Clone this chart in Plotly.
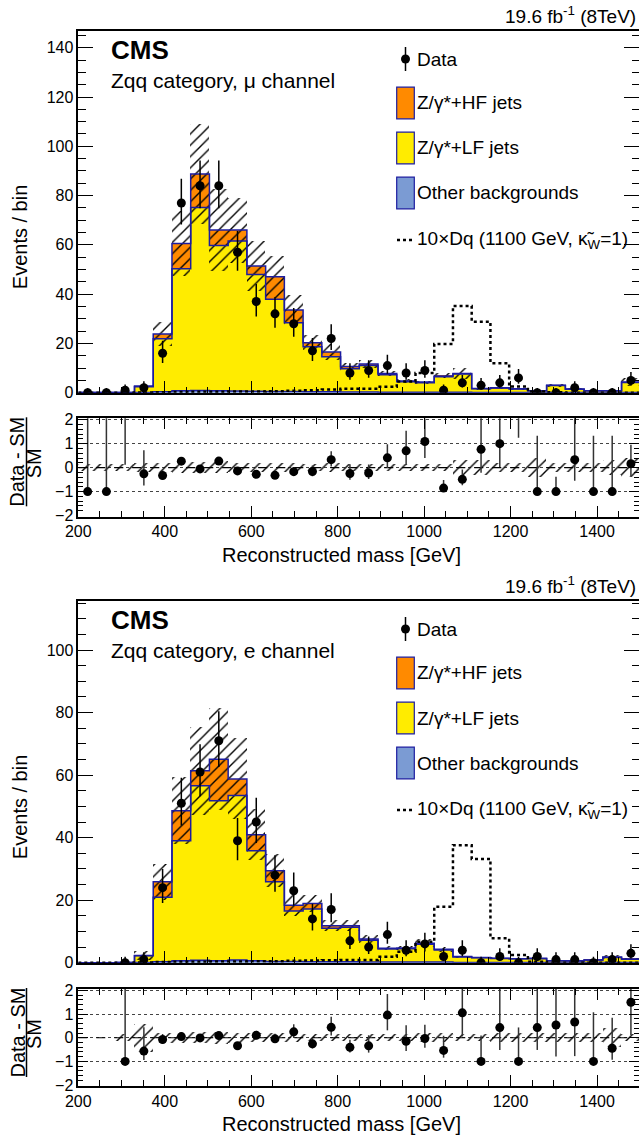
import numpy as np
import plotly.graph_objects as go

W, H = 639, 1140
FONT = "Liberation Sans, Arial, Helvetica, sans-serif"

# reconstructed mass binning: 30 bins between 200 and 1500 GeV
BIN_LO, BIN_HI, N_BINS = 200, 1500, 30

# ---- Zqq category, muon channel ----
MU_DATA = [0, 0, 1, 2, 16, 77, 84, 84, 57, 37, 32, 28, 17, 22, 8,
           9, 11, 8, 9, 1, 4, 3, 4, 6, 0, 0, 2, 0, 0, 5]
MU_OTHER = [0, 0, 0, 0.1, 0.4, 0.8, 0.9, 0.8, 0.7, 0.6, 0.5, 0.5, 0.4, 0.4, 0.3,
            0.3, 0.2, 0.2, 0.2, 0.2, 0.2, 0.1, 0.1, 0.1, 0.1, 0.1, 0.1, 0.1, 0.1, 0.1]
MU_LF = [0.05, 0.1, 0.12, 2.3, 21.5, 49.5, 74.3, 58.9, 60.9, 47.4, 37.4, 27.9, 18.3, 14.2, 9.4,
         10.7, 7.1, 4.2, 3.8, 6.3, 7.4, 1.5, 1.8, 1.4, 0.65, 2.8, 1.35, 0.65, 0.65, 4.0]
MU_HF = [0, 0, 0, 0.3, 1.9, 10.3, 13.6, 6.3, 4.4, 3.4, 9.2, 5.2, 1.6, 1.9, 0.9,
         0.6, 0.5, 0.3, 0.3, 0.3, 0.2, 0.1, 0.1, 0.1, 0.05, 0.1, 0.05, 0.05, 0.05, 0.2]
MU_SIGNAL = [0, 0, 0, 0.1, 0.2, 0.3, 0.4, 0.4, 0.5, 0.5, 0.6, 0.8, 1.0, 1.3, 1.6,
             1.6, 2.4, 4.5, 8.0, 19.8, 35.2, 28.8, 12.0, 2.5, 0.5, 0.2, 0, 0, 0, 0]
MU_UNC = [0.15, 0.15, 0.15, 0.18, 0.2, 0.22, 0.23, 0.25, 0.2, 0.2, 0.18, 0.18, 0.15, 0.2, 0.15,
          0.15, 0.15, 0.15, 0.15, 0.15, 0.3, 0.3, 0.2, 0.2, 0.4, 0.2, 0.2, 0.2, 0.3, 0.4]

# ---- Zqq category, electron channel ----
E_DATA = [None, None, 0, 1, 24, 51, 61, 71, 39, 45, 28, 23, 14, 17, 7,
          5, 9, 4, 6, 2, 4, 0, 2, 0, 2, 1, 1, 0, 1, 3]
E_OTHER = [0, 0, 0, 0.1, 0.3, 0.6, 0.8, 0.6, 0.9, 0.6, 0.4, 0.4, 0.3, 0.3, 0.3,
           0.2, 0.2, 0.2, 0.2, 0.2, 0.1, 0.1, 0.1, 0.1, 0.1, 0.05, 0.05, 0.05, 0.1, 0.1]
E_LF = [0, 0, 0.05, 2.1, 20.6, 38.4, 55.8, 51.2, 52.6, 35.2, 25.5, 16.1, 16.9, 10.7, 11.0,
        7.0, 4.2, 4.3, 5.7, 3.9, 1.75, 1.5, 1.25, 1.15, 1.2, 0.55, 0.5, 0.8, 1.6, 1.0]
E_HF = [0, 0, 0, 0.1, 5.0, 9.6, 4.8, 13.3, 5.3, 5.1, 3.5, 1.9, 1.7, 0.8, 0.5,
        0.4, 0.2, 0.2, 0.3, 0.2, 0.1, 0.1, 0.05, 0.05, 0.1, 0.05, 0.05, 0.05, 0.1, 0.1]
E_SIGNAL = [0, 0, 0, 0.1, 0.2, 0.3, 0.3, 0.4, 0.4, 0.5, 0.5, 0.6, 0.7, 0.8, 0.9,
            0.9, 1.9, 3.5, 6.7, 17.9, 37.6, 33.2, 7.8, 2.5, 0.3, 0, 0, 0, 0, 0]
E_UNC = [0, 0, 0.15, 0.6, 0.22, 0.22, 0.23, 0.25, 0.22, 0.2, 0.18, 0.18, 0.15, 0.15, 0.15,
         0.15, 0.15, 0.15, 0.2, 0.2, 0.15, 0.15, 0.2, 0.2, 0.2, 0.2, 0.2, 0.2, 0.4, 0.15]

LEGEND_LABELS = ['Data', 'Z/γ*+HF jets', 'Z/γ*+LF jets', 'Other backgrounds',
                 '10×Dq (1100 GeV, κ̃<sub>W</sub>=1)']

C_HF = '#ff8a00'
C_LF = '#ffec00'
C_OTHER = '#7b9bd3'
C_LINE = '#1c1ca0'

edges = np.linspace(BIN_LO, BIN_HI, N_BINS + 1)
centers = 0.5 * (edges[:-1] + edges[1:])
bw = edges[1] - edges[0]


def px_x(p):
    return p / W


def px_y(p):
    return 1 - p / H


def poisson(n):
    if n is None:
        return None, None
    lo = np.sqrt(n - 0.25) if n > 0 else 0.0
    up = np.sqrt(n + 0.75) + 1.0
    return lo, up


def step(vals):
    return list(edges), list(vals) + [vals[-1]]


fig = go.Figure()
shapes, annots = [], []

PANELS = [
    dict(data=MU_DATA, other=MU_OTHER, lf=MU_LF, hf=MU_HF, sig=MU_SIGNAL, unc=MU_UNC,
         label='Zqq category, μ channel', top=31, bot=392.7, rtop=418.3, rbot=516.5,
         ymax=146.8, ax=('x', 'y', 'x2', 'y2')),
    dict(data=E_DATA, other=E_OTHER, lf=E_LF, hf=E_HF, sig=E_SIGNAL, unc=E_UNC,
         label='Zqq category, e channel', top=601, bot=962.7, rtop=989, rbot=1086,
         ymax=115.7, ax=('x3', 'y3', 'x4', 'y4')),
]

for p in PANELS:
    xa, ya, xr, yr = p['ax']
    other = np.array(p['other'])
    lf = np.array(p['lf'])
    hf = np.array(p['hf'])
    low = other + lf
    total = low + hf
    err = total * np.array(p['unc'])

    fig.add_trace(go.Bar(x=centers, y=other, width=bw, xaxis=xa, yaxis=ya,
                         marker=dict(color=C_OTHER, line=dict(width=0))))
    fig.add_trace(go.Bar(x=centers, y=lf, base=other, width=bw, xaxis=xa, yaxis=ya,
                         marker=dict(color=C_LF, line=dict(width=0))))
    fig.add_trace(go.Bar(x=centers, y=hf, base=low, width=bw, xaxis=xa, yaxis=ya,
                         marker=dict(color=C_HF, line=dict(width=0))))
    hatch = dict(color='rgba(0,0,0,0)', line=dict(width=0),
                 pattern=dict(shape='/', fgcolor='black', bgcolor='rgba(0,0,0,0)',
                              size=8, solidity=0.17, fillmode='replace'))
    fig.add_trace(go.Bar(x=centers, y=2 * err, base=total - err, width=bw,
                         xaxis=xa, yaxis=ya, marker=hatch))

    for lvl in (other, low, total):
        sx, sy = step(lvl)
        fig.add_trace(go.Scatter(x=sx, y=sy, mode='lines', line_shape='hv',
                                 xaxis=xa, yaxis=ya,
                                 line=dict(color=C_LINE, width=1.5)))
    sx, sy = step(p['sig'])
    fig.add_trace(go.Scatter(x=sx, y=sy, mode='lines', line_shape='hv',
                             xaxis=xa, yaxis=ya,
                             line=dict(color='black', width=2.5, dash='dot')))

    lo_e, up_e = zip(*[poisson(n) for n in p['data']])
    fig.add_trace(go.Scatter(
        x=centers, y=p['data'], mode='markers', xaxis=xa, yaxis=ya,
        marker=dict(color='black', size=9),
        error_y=dict(type='data', symmetric=False, array=up_e, arrayminus=lo_e,
                     width=0, thickness=1.5, color='black')))

    # ratio panel
    has_sm = total > 0
    rel = np.where(has_sm, np.array(p['unc']), 0)
    fig.add_trace(go.Bar(x=centers, y=2 * rel, base=-rel, width=bw,
                         xaxis=xr, yaxis=yr, marker=hatch))
    fig.add_trace(go.Scatter(x=[BIN_LO, BIN_HI], y=[0, 0], mode='lines',
                             xaxis=xr, yaxis=yr,
                             line=dict(color='black', width=1.2, dash='dash')))
    rv, rlo, rup = [], [], []
    for n, sm, l, u in zip(p['data'], total, lo_e, up_e):
        if n is None or sm <= 0:
            rv.append(None); rlo.append(0); rup.append(0)
        else:
            rv.append(n / sm - 1); rlo.append(l / sm); rup.append(u / sm)
    fig.add_trace(go.Scatter(
        x=centers, y=rv, mode='markers', xaxis=xr, yaxis=yr,
        marker=dict(color='black', size=9),
        error_y=dict(type='data', symmetric=False, array=rup, arrayminus=rlo,
                     width=0, thickness=1.5, color='#333')))

    # axes
    common = dict(showline=True, linecolor='black', linewidth=1.5,
                  ticks='inside', tickcolor='black', tickwidth=1.2, automargin=False,
                  tickfont=dict(family=FONT, size=16, color='black'),
                  showgrid=False, zeroline=False)
    xdom = [px_x(78.3), 1]
    xrange = [BIN_LO, BIN_LO + (W - 78.3) / 0.4323]
    xminor = dict(ticks='inside', ticklen=6, dtick=50, tick0=200, tickcolor='black')
    fig.layout[xa.replace('x', 'xaxis')] = dict(
        domain=xdom, range=xrange, anchor=ya, showticklabels=False, mirror=True,
        dtick=200, tick0=200, ticklen=12, minor=xminor, **common)
    fig.layout[ya.replace('y', 'yaxis')] = dict(
        domain=[px_y(p['bot']), px_y(p['top'])], range=[0, p['ymax']], anchor=xa,
        dtick=20, ticklen=15, mirror='ticks',
        minor=dict(ticks='inside', ticklen=7.5, dtick=5, tickcolor='black'), **common)
    fig.layout[xr.replace('x', 'xaxis')] = dict(
        domain=xdom, range=xrange, anchor=yr, showticklabels=True, matches=xa,
        mirror='ticks', dtick=200, tick0=200, ticklen=11, minor=xminor, **common)
    rc = dict(common)
    rc['showgrid'] = True
    fig.layout[yr.replace('y', 'yaxis')] = dict(
        domain=[px_y(p['rbot']), px_y(p['rtop'])], range=[-2.04, 2.06], anchor=xr,
        dtick=1, ticklen=10, griddash='dot', gridcolor='#444', gridwidth=1,
        mirror='ticks',
        minor=dict(ticks='inside', ticklen=5, dtick=0.2, tickcolor='black'), **rc)

    top = p['top']
    annots += [
        dict(text='19.6 fb<sup>-1</sup> (8TeV)', x=px_x(637), y=px_y(top - 16),
             xanchor='right', yanchor='middle', font=dict(size=19)),
        dict(text='<b>CMS</b>', x=px_x(110), y=px_y(top + 19),
             xanchor='left', yanchor='middle', font=dict(size=26)),
        dict(text=p['label'], x=px_x(110), y=px_y(top + 49),
             xanchor='left', yanchor='middle', font=dict(size=21)),
        dict(text='Events / bin', x=px_x(19.5), y=px_y(top + 205.7), textangle=-90,
             xanchor='center', yanchor='middle', font=dict(size=20)),
        dict(text='Reconstructed mass [GeV]', x=px_x(342), y=px_y(p['rbot'] + 38),
             xanchor='center', yanchor='middle', font=dict(size=20)),
        dict(text='Data - SM', x=px_x(17), y=px_y(p['rtop'] + 43.5), textangle=-90,
             xanchor='center', yanchor='middle', font=dict(size=20)),
        dict(text='SM', x=px_x(34), y=px_y(p['rtop'] + 45), textangle=-90,
             xanchor='center', yanchor='middle', font=dict(size=20)),
    ]
    shapes.append(dict(type='line', xref='paper', yref='paper',
                       x0=px_x(26.5), x1=px_x(26.5),
                       y0=px_y(p['rtop'] - 1), y1=px_y(p['rtop'] + 88),
                       line=dict(color='black', width=1.5)))

    # legend
    rows = [top + 28, top + 72, top + 117, top + 162, top + 209]
    for lab, r in zip(LEGEND_LABELS, rows):
        annots.append(dict(text=lab, x=px_x(416), y=px_y(r), xanchor='left',
                           yanchor='middle', font=dict(size=19)))
    shapes += [
        dict(type='line', xref='paper', yref='paper', x0=px_x(405.5), x1=px_x(405.5),
             y0=px_y(rows[0] - 12), y1=px_y(rows[0] + 12),
             line=dict(color='black', width=1.5)),
        dict(type='circle', xref='paper', yref='paper', x0=px_x(401), x1=px_x(410),
             y0=px_y(rows[0] + 4.5), y1=px_y(rows[0] - 4.5), fillcolor='black',
             line=dict(color='black', width=0)),
        dict(type='line', xref='paper', yref='paper', x0=px_x(397), x1=px_x(415),
             y0=px_y(rows[4]), y1=px_y(rows[4]),
             line=dict(color='black', width=2.5, dash='dot')),
    ]
    for col, r in zip((C_HF, C_LF, C_OTHER), rows[1:4]):
        shapes.append(dict(type='rect', xref='paper', yref='paper',
                           x0=px_x(396.7), x1=px_x(414.3),
                           y0=px_y(r + 15.8), y1=px_y(r - 15.8),
                           fillcolor=col, line=dict(color=C_LINE, width=1.2)))

for a in annots:
    a.update(xref='paper', yref='paper', showarrow=False, borderpad=0)
    a.setdefault('font', {})
    a['font'].update(family=FONT, color='black')

fig.update_layout(
    width=W, height=H, margin=dict(l=0, r=0, t=0, b=0, pad=0),
    paper_bgcolor='white', plot_bgcolor='white',
    barmode='overlay', bargap=0, showlegend=False,
    font=dict(family=FONT, color='black'),
    annotations=annots, shapes=shapes,
)

fig.write_html("out.html", config={'displayModeBar': False},
               post_script="document.body.style.margin='0';"
                           "document.body.style.overflow='hidden';")
